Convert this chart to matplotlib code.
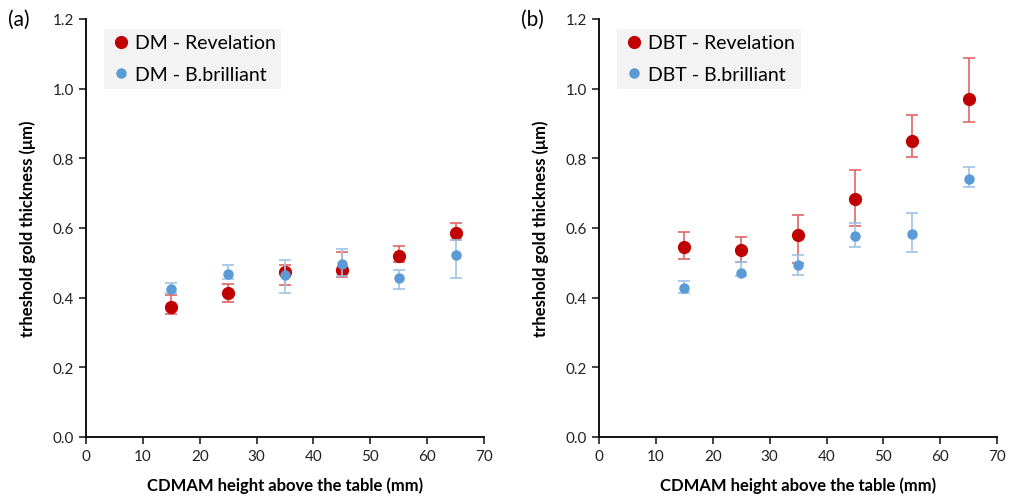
import matplotlib.pyplot as plt
from matplotlib.lines import Line2D
import numpy as np

plt.rcParams['font.family'] = ['Lato', 'DejaVu Sans']

heights = [15, 25, 35, 45, 55, 65]

# (a) DM
dm_rev = [0.373, 0.414, 0.473, 0.479, 0.519, 0.586]
dm_rev_lo = [0.352, 0.388, 0.437, 0.459, 0.503, 0.565]
dm_rev_hi = [0.408, 0.438, 0.495, 0.530, 0.547, 0.613]
dm_bb = [0.426, 0.467, 0.464, 0.496, 0.456, 0.522]
dm_bb_lo = [0.414, 0.452, 0.413, 0.462, 0.425, 0.456]
dm_bb_hi = [0.442, 0.495, 0.509, 0.539, 0.478, 0.565]

# (b) DBT
dbt_rev = [0.546, 0.537, 0.580, 0.684, 0.849, 0.969]
dbt_rev_lo = [0.510, 0.503, 0.500, 0.605, 0.804, 0.905]
dbt_rev_hi = [0.588, 0.575, 0.636, 0.765, 0.925, 1.088]
dbt_bb = [0.428, 0.471, 0.495, 0.576, 0.583, 0.741]
dbt_bb_lo = [0.412, 0.462, 0.465, 0.546, 0.530, 0.716]
dbt_bb_hi = [0.447, 0.503, 0.523, 0.613, 0.642, 0.774]

RED = '#C00000'
BLUE = '#5B9BD5'


def errs(v, lo, hi):
    v = np.array(v)
    return [v - np.array(lo), np.array(hi) - v]


def panel(ax, rev, rlo, rhi, bb, blo, bhi, labels, tag):
    ax.errorbar(heights, bb, yerr=errs(bb, blo, bhi), fmt='o', color=BLUE,
                ms=6.5, ecolor='#9DC3E6', elinewidth=1.2, capsize=4, capthick=1.2,
                zorder=3)
    ax.errorbar(heights, rev, yerr=errs(rev, rlo, rhi), fmt='o', color=RED,
                ms=8.5, ecolor='#E06666', elinewidth=1.2, capsize=4, capthick=1.2,
                zorder=2)
    ax.set_xlim(0, 70)
    ax.set_ylim(0, 1.2)
    ax.set_xticks(range(0, 71, 10))
    ax.set_yticks(np.arange(0, 1.21, 0.2))
    ax.set_yticklabels([f'{t:.1f}' for t in np.arange(0, 1.21, 0.2)])
    for s in ['top', 'right']:
        ax.spines[s].set_visible(False)
    for s in ['left', 'bottom']:
        ax.spines[s].set_linewidth(1.3)
    ax.tick_params(direction='out', length=5, width=1.2, labelsize=11, colors='#222222')
    ax.set_xlabel('CDMAM height above the table (mm)', fontsize=12, fontweight='bold', labelpad=10)
    ax.set_ylabel('trheshold gold thickness (μm)', fontsize=12, fontweight='bold', labelpad=12)
    proxies = [Line2D([], [], ls='none', marker='o', color=RED, ms=8.5),
               Line2D([], [], ls='none', marker='o', color=BLUE, ms=6.5)]
    leg = ax.legend(proxies, labels, loc='upper left', bbox_to_anchor=(0.02, 1.0),
                    fontsize=14, frameon=True, fancybox=False, handletextpad=0.1,
                    handlelength=1.2, borderpad=0.3, labelspacing=0.75)
    leg.get_frame().set_facecolor('#F0F0F0')
    leg.get_frame().set_edgecolor('none')
    ax.text(-0.195, 1.0, tag, transform=ax.transAxes, fontsize=15, va='center', ha='left')


fig = plt.figure(figsize=(10.09, 5.02), dpi=100)
ax1 = fig.add_axes([0.0852, 0.1275, 0.3945, 0.833])
ax2 = fig.add_axes([0.5937, 0.1275, 0.3945, 0.833])

panel(ax1, dm_rev, dm_rev_lo, dm_rev_hi, dm_bb, dm_bb_lo, dm_bb_hi,
      ['DM - Revelation', 'DM - B.brilliant'], '(a)')
panel(ax2, dbt_rev, dbt_rev_lo, dbt_rev_hi, dbt_bb, dbt_bb_lo, dbt_bb_hi,
      ['DBT - Revelation', 'DBT - B.brilliant'], '(b)')

fig.savefig('out.png', dpi=100)
